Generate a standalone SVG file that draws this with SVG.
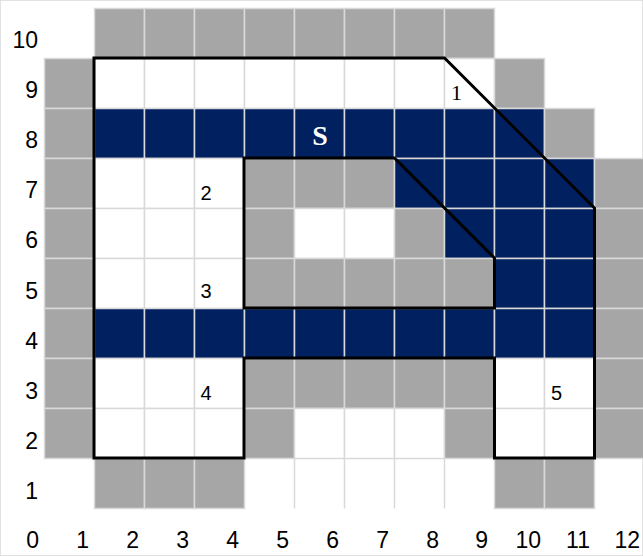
<svg xmlns="http://www.w3.org/2000/svg" width="643" height="556" viewBox="0 0 643 556">
<style>
rect{stroke:#d9d9d9;stroke-width:1.5}
.g{fill:#a6a6a6}
.n{fill:#002060}
.w{fill:#ffffff}
.ax{font-family:"Liberation Sans",Arial,sans-serif;font-size:23px;fill:#000;text-anchor:end}
.lb{font-family:"Liberation Sans",Arial,sans-serif;font-size:20px;fill:#000;text-anchor:middle}
.outline{fill:none;stroke:#000;stroke-width:3;stroke-linejoin:miter}
</style>
<rect width="643" height="556" fill="#fff" stroke="none"/>
<g id="cells">
<!-- row 10 -->
<rect class="g" x="94.5" y="8.5" width="50" height="50"/><rect class="g" x="144.5" y="8.5" width="50" height="50"/><rect class="g" x="194.5" y="8.5" width="50" height="50"/><rect class="g" x="244.5" y="8.5" width="50" height="50"/><rect class="g" x="294.5" y="8.5" width="50" height="50"/><rect class="g" x="344.5" y="8.5" width="50" height="50"/><rect class="g" x="394.5" y="8.5" width="50" height="50"/><rect class="g" x="444.5" y="8.5" width="50" height="50"/>
<!-- row 9 -->
<rect class="g" x="44.5" y="58.5" width="50" height="50"/><rect class="w" x="94.5" y="58.5" width="50" height="50"/><rect class="w" x="144.5" y="58.5" width="50" height="50"/><rect class="w" x="194.5" y="58.5" width="50" height="50"/><rect class="w" x="244.5" y="58.5" width="50" height="50"/><rect class="w" x="294.5" y="58.5" width="50" height="50"/><rect class="w" x="344.5" y="58.5" width="50" height="50"/><rect class="w" x="394.5" y="58.5" width="50" height="50"/><rect class="w" x="444.5" y="58.5" width="50" height="50"/><rect class="g" x="494.5" y="58.5" width="50" height="50"/>
<!-- row 8 -->
<rect class="g" x="44.5" y="108.5" width="50" height="50"/><rect class="n" x="94.5" y="108.5" width="50" height="50"/><rect class="n" x="144.5" y="108.5" width="50" height="50"/><rect class="n" x="194.5" y="108.5" width="50" height="50"/><rect class="n" x="244.5" y="108.5" width="50" height="50"/><rect class="n" x="294.5" y="108.5" width="50" height="50"/><rect class="n" x="344.5" y="108.5" width="50" height="50"/><rect class="n" x="394.5" y="108.5" width="50" height="50"/><rect class="n" x="444.5" y="108.5" width="50" height="50"/><rect class="n" x="494.5" y="108.5" width="50" height="50"/><rect class="g" x="544.5" y="108.5" width="50" height="50"/>
<!-- row 7 -->
<rect class="g" x="44.5" y="158.5" width="50" height="50"/><rect class="w" x="94.5" y="158.5" width="50" height="50"/><rect class="w" x="144.5" y="158.5" width="50" height="50"/><rect class="w" x="194.5" y="158.5" width="50" height="50"/><rect class="g" x="244.5" y="158.5" width="50" height="50"/><rect class="g" x="294.5" y="158.5" width="50" height="50"/><rect class="g" x="344.5" y="158.5" width="50" height="50"/><rect class="n" x="394.5" y="158.5" width="50" height="50"/><rect class="n" x="444.5" y="158.5" width="50" height="50"/><rect class="n" x="494.5" y="158.5" width="50" height="50"/><rect class="n" x="544.5" y="158.5" width="50" height="50"/><rect class="g" x="594.5" y="158.5" width="50" height="50"/>
<!-- row 6 -->
<rect class="g" x="44.5" y="208.5" width="50" height="50"/><rect class="w" x="94.5" y="208.5" width="50" height="50"/><rect class="w" x="144.5" y="208.5" width="50" height="50"/><rect class="w" x="194.5" y="208.5" width="50" height="50"/><rect class="g" x="244.5" y="208.5" width="50" height="50"/><rect class="w" x="294.5" y="208.5" width="50" height="50"/><rect class="w" x="344.5" y="208.5" width="50" height="50"/><rect class="g" x="394.5" y="208.5" width="50" height="50"/><rect class="n" x="444.5" y="208.5" width="50" height="50"/><rect class="n" x="494.5" y="208.5" width="50" height="50"/><rect class="n" x="544.5" y="208.5" width="50" height="50"/><rect class="g" x="594.5" y="208.5" width="50" height="50"/>
<!-- row 5 -->
<rect class="g" x="44.5" y="258.5" width="50" height="50"/><rect class="w" x="94.5" y="258.5" width="50" height="50"/><rect class="w" x="144.5" y="258.5" width="50" height="50"/><rect class="w" x="194.5" y="258.5" width="50" height="50"/><rect class="g" x="244.5" y="258.5" width="50" height="50"/><rect class="g" x="294.5" y="258.5" width="50" height="50"/><rect class="g" x="344.5" y="258.5" width="50" height="50"/><rect class="g" x="394.5" y="258.5" width="50" height="50"/><rect class="g" x="444.5" y="258.5" width="50" height="50"/><rect class="n" x="494.5" y="258.5" width="50" height="50"/><rect class="n" x="544.5" y="258.5" width="50" height="50"/><rect class="g" x="594.5" y="258.5" width="50" height="50"/>
<!-- row 4 -->
<rect class="g" x="44.5" y="308.5" width="50" height="50"/><rect class="n" x="94.5" y="308.5" width="50" height="50"/><rect class="n" x="144.5" y="308.5" width="50" height="50"/><rect class="n" x="194.5" y="308.5" width="50" height="50"/><rect class="n" x="244.5" y="308.5" width="50" height="50"/><rect class="n" x="294.5" y="308.5" width="50" height="50"/><rect class="n" x="344.5" y="308.5" width="50" height="50"/><rect class="n" x="394.5" y="308.5" width="50" height="50"/><rect class="n" x="444.5" y="308.5" width="50" height="50"/><rect class="n" x="494.5" y="308.5" width="50" height="50"/><rect class="n" x="544.5" y="308.5" width="50" height="50"/><rect class="g" x="594.5" y="308.5" width="50" height="50"/>
<!-- row 3 -->
<rect class="g" x="44.5" y="358.5" width="50" height="50"/><rect class="w" x="94.5" y="358.5" width="50" height="50"/><rect class="w" x="144.5" y="358.5" width="50" height="50"/><rect class="w" x="194.5" y="358.5" width="50" height="50"/><rect class="g" x="244.5" y="358.5" width="50" height="50"/><rect class="g" x="294.5" y="358.5" width="50" height="50"/><rect class="g" x="344.5" y="358.5" width="50" height="50"/><rect class="g" x="394.5" y="358.5" width="50" height="50"/><rect class="g" x="444.5" y="358.5" width="50" height="50"/><rect class="w" x="494.5" y="358.5" width="50" height="50"/><rect class="w" x="544.5" y="358.5" width="50" height="50"/><rect class="g" x="594.5" y="358.5" width="50" height="50"/>
<!-- row 2 -->
<rect class="g" x="44.5" y="408.5" width="50" height="50"/><rect class="w" x="94.5" y="408.5" width="50" height="50"/><rect class="w" x="144.5" y="408.5" width="50" height="50"/><rect class="w" x="194.5" y="408.5" width="50" height="50"/><rect class="g" x="244.5" y="408.5" width="50" height="50"/><rect class="w" x="294.5" y="408.5" width="50" height="50"/><rect class="w" x="344.5" y="408.5" width="50" height="50"/><rect class="w" x="394.5" y="408.5" width="50" height="50"/><rect class="g" x="444.5" y="408.5" width="50" height="50"/><rect class="w" x="494.5" y="408.5" width="50" height="50"/><rect class="w" x="544.5" y="408.5" width="50" height="50"/><rect class="g" x="594.5" y="408.5" width="50" height="50"/>
<!-- row 1 -->
<path d="M294.5 458.5V508.5M344.5 458.5V508.5M394.5 458.5V508.5M444.5 458.5V508.5" stroke="#d9d9d9" stroke-width="1.5" fill="none"/>
<rect class="g" x="94.5" y="458.5" width="50" height="50"/><rect class="g" x="144.5" y="458.5" width="50" height="50"/><rect class="g" x="194.5" y="458.5" width="50" height="50"/><rect class="g" x="494.5" y="458.5" width="50" height="50"/><rect class="g" x="544.5" y="458.5" width="50" height="50"/>
</g>
<g id="outline">
<path class="outline" d="M94 58H444.5L594.5 208V458H494.5V358H244V458H94Z"/>
<path class="outline" d="M244 158H394.5L494.5 258V308H244Z"/>
</g>
<g id="row-labels">
<text class="ax" x="38" y="47.5">10</text>
<text class="ax" x="38" y="97.7">9</text>
<text class="ax" x="38" y="147.9">8</text>
<text class="ax" x="38" y="198.1">7</text>
<text class="ax" x="38" y="248.3">6</text>
<text class="ax" x="38" y="298.5">5</text>
<text class="ax" x="38" y="348.7">4</text>
<text class="ax" x="38" y="398.9">3</text>
<text class="ax" x="38" y="449.1">2</text>
<text class="ax" x="38" y="499.3">1</text>
</g>
<g id="col-labels">
<text class="ax" x="39" y="548">0</text>
<text class="ax" x="89" y="548">1</text>
<text class="ax" x="139" y="548">2</text>
<text class="ax" x="189" y="548">3</text>
<text class="ax" x="239" y="548">4</text>
<text class="ax" x="289" y="548">5</text>
<text class="ax" x="339" y="548">6</text>
<text class="ax" x="389" y="548">7</text>
<text class="ax" x="439" y="548">8</text>
<text class="ax" x="488" y="548">9</text>
<text class="ax" x="541" y="548">10</text>
<text class="ax" x="590" y="548">11</text>
<text class="ax" x="640" y="548">12</text>
</g>
<g id="cell-labels">
<text x="456.5" y="100" font-family="'Liberation Serif','Times New Roman',serif" font-size="22" text-anchor="middle" fill="#000">1</text>
<text class="lb" x="206" y="200">2</text>
<text class="lb" x="206" y="297.5">3</text>
<text class="lb" x="206" y="400">4</text>
<text class="lb" x="556.5" y="400">5</text>
<text x="320" y="145" font-family="'Liberation Serif','Times New Roman',serif" font-size="28" font-weight="bold" text-anchor="middle" fill="#fff">S</text>
</g>
</svg>
